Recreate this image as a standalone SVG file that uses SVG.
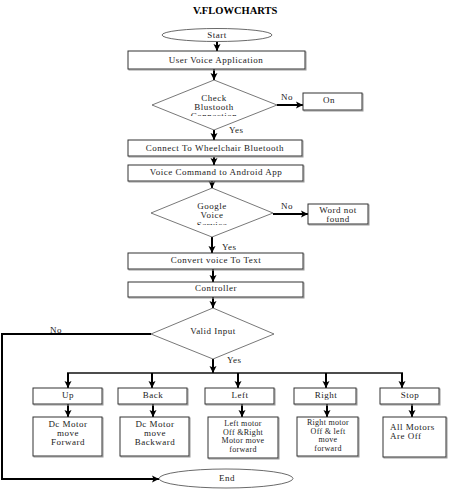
<svg xmlns="http://www.w3.org/2000/svg" width="453" height="496" viewBox="0 0 453 496">
<style>
.box{fill:#fff;stroke:#333;stroke-width:1}
.sh{fill:none;stroke:#999;stroke-width:1}
.dia{fill:#fff;stroke:#555;stroke-width:0.8}
.ell{fill:#fff;stroke:#444;stroke-width:0.8}
.arr{stroke:#000;stroke-width:2;fill:none;marker-end:url(#ah)}
.ln{stroke:#111;stroke-width:1.5;fill:none}
text{font-family:"Liberation Serif","Times New Roman",serif;font-size:9px;fill:#222;letter-spacing:0.5px}
.c{text-anchor:middle}
.sm{font-size:8px;letter-spacing:0.3px}
.title{font-size:10.5px;font-weight:bold;letter-spacing:0;fill:#000}
</style>
<defs>
<marker id="ah" markerUnits="userSpaceOnUse" markerWidth="8" markerHeight="8" refX="7" refY="4" orient="auto">
<path d="M0,0.5 L7,4 L0,7.5 L1.5,4 Z" fill="#000"/>
</marker>
<clipPath id="cp1"><rect x="150" y="85" width="130" height="31"/></clipPath>
<clipPath id="cp2"><rect x="150" y="195" width="125" height="30"/></clipPath>
</defs>

<text class="title" x="193" y="14">V.FLOWCHARTS</text>

<g id="connectors">
<line class="arr" x1="217" y1="42" x2="217" y2="51"/>
<line class="arr" x1="214" y1="69" x2="214" y2="80"/>
<line class="arr" x1="214" y1="130" x2="214" y2="140"/>
<line class="arr" x1="214" y1="157" x2="214" y2="165"/>
<line class="arr" x1="212" y1="181" x2="212" y2="188"/>
<line class="arr" x1="212" y1="237" x2="212" y2="253"/>
<line class="arr" x1="213" y1="269" x2="213" y2="282"/>
<line class="arr" x1="213" y1="297" x2="213" y2="308"/>
<line class="arr" x1="213" y1="359" x2="213" y2="373"/>
<line class="arr" x1="277" y1="105" x2="303" y2="105"/>
<line class="arr" x1="273" y1="214" x2="308" y2="214"/>
<line class="ln" x1="67" y1="373" x2="403" y2="373"/>
<line class="arr" x1="68" y1="373" x2="68" y2="388"/>
<line class="arr" x1="152" y1="373" x2="152" y2="388"/>
<line class="arr" x1="238" y1="373" x2="238" y2="388"/>
<line class="arr" x1="326" y1="373" x2="326" y2="388"/>
<line class="arr" x1="402" y1="373" x2="402" y2="388"/>
<line class="arr" x1="68" y1="404" x2="68" y2="417"/>
<line class="arr" x1="153" y1="404" x2="153" y2="417"/>
<line class="arr" x1="242" y1="404" x2="242" y2="417"/>
<line class="arr" x1="327" y1="404" x2="327" y2="417"/>
<line class="arr" x1="412" y1="404" x2="412" y2="417"/>
<polyline class="arr" points="151,334 2,334 2,479 159,479"/>
<text x="281" y="100">No</text>
<text x="229" y="133">Yes</text>
<text x="281" y="209">No</text>
<text x="222" y="250">Yes</text>
<text x="50" y="333">No</text>
<text x="227" y="363">Yes</text>
</g>

<g id="start">
<ellipse class="ell" cx="217" cy="35" rx="55" ry="6.5"/>
<text class="c" x="217" y="38">Start</text>
</g>

<g id="user-voice">
<rect class="sh" x="129" y="52" width="177" height="18"/>
<rect class="box" x="128" y="51" width="177" height="18"/>
<text class="c" x="216" y="63">User Voice Application</text>
</g>

<g id="check-bt">
<polygon class="dia" points="214,80 277,105 214,130 152,105"/>
<g clip-path="url(#cp1)">
<text class="c" x="214" y="101">Check</text>
<text class="c" x="214" y="110">Blustooth</text>
<text class="c" x="214" y="119">Connection</text>
</g>
</g>

<g id="on">
<rect class="sh" x="304" y="94" width="59" height="17"/>
<rect class="box" x="303" y="93" width="59" height="17"/>
<text x="323" y="103">On</text>
</g>

<g id="connect">
<rect class="sh" x="129" y="141" width="174" height="16"/>
<rect class="box" x="128" y="140" width="174" height="16"/>
<text class="c" x="215" y="151">Connect To Wheelchair Bluetooth</text>
</g>

<g id="voice-cmd">
<rect class="sh" x="129" y="166" width="175" height="16"/>
<rect class="box" x="128" y="165" width="175" height="16"/>
<text class="c" x="216" y="175">Voice Command to Android App</text>
</g>

<g id="google">
<polygon class="dia" points="212,188 273,213 212,237 151,213"/>
<g clip-path="url(#cp2)">
<text class="c" x="212" y="209">Google</text>
<text class="c" x="212" y="218">Voice</text>
<text class="c" x="212" y="228">Service</text>
</g>
</g>

<g id="word-not-found">
<rect class="sh" x="309" y="205" width="60" height="20"/>
<rect class="box" x="308" y="204" width="60" height="20"/>
<text class="c" x="338" y="213">Word not</text>
<text class="c" x="338" y="222">found</text>
</g>

<g id="convert">
<rect class="sh" x="129" y="254" width="175" height="16"/>
<rect class="box" x="128" y="253" width="175" height="16"/>
<text class="c" x="216" y="263">Convert voice To Text</text>
</g>

<g id="controller">
<rect class="sh" x="129" y="283" width="175" height="15"/>
<rect class="box" x="128" y="282" width="175" height="15"/>
<text class="c" x="216" y="291">Controller</text>
</g>

<g id="valid-input">
<polygon class="dia" points="213,308 274,334 213,359 151,334"/>
<text class="c" x="213" y="334">Valid Input</text>
</g>

<g id="up">
<rect class="sh" x="34" y="389" width="69" height="16"/>
<rect class="box" x="33" y="388" width="69" height="16"/>
<text class="c" x="68" y="398">Up</text>
</g>
<g id="back">
<rect class="sh" x="119" y="389" width="69" height="16"/>
<rect class="box" x="118" y="388" width="69" height="16"/>
<text class="c" x="153" y="398">Back</text>
</g>
<g id="left">
<rect class="sh" x="206" y="389" width="69" height="16"/>
<rect class="box" x="205" y="388" width="69" height="16"/>
<text class="c" x="240" y="398">Left</text>
</g>
<g id="right">
<rect class="sh" x="295" y="389" width="62" height="16"/>
<rect class="box" x="294" y="388" width="62" height="16"/>
<text class="c" x="326" y="398">Right</text>
</g>
<g id="stop">
<rect class="sh" x="381" y="389" width="59" height="16"/>
<rect class="box" x="380" y="388" width="59" height="16"/>
<text class="c" x="410" y="398">Stop</text>
</g>

<g id="dc-forward">
<rect class="sh" x="34" y="418" width="69" height="39"/>
<rect class="box" x="33" y="417" width="69" height="39"/>
<text class="c" x="68" y="427">Dc Motor</text>
<text class="c" x="68" y="436">move</text>
<text class="c" x="68" y="445">Forward</text>
</g>
<g id="dc-backward">
<rect class="sh" x="121" y="418" width="69" height="39"/>
<rect class="box" x="120" y="417" width="69" height="39"/>
<text class="c" x="155" y="427">Dc Motor</text>
<text class="c" x="155" y="436">move</text>
<text class="c" x="155" y="445">Backward</text>
</g>
<g id="left-motor">
<rect class="sh" x="209" y="418" width="70" height="41"/>
<rect class="box" x="208" y="417" width="70" height="41"/>
<text class="c sm" x="243" y="426">Left motor</text>
<text class="c sm" x="243" y="434.5">Off &amp;Right</text>
<text class="c sm" x="243" y="443">Motor move</text>
<text class="c sm" x="243" y="451.5">forward</text>
</g>
<g id="right-motor">
<rect class="sh" x="298" y="418" width="61" height="39"/>
<rect class="box" x="297" y="417" width="61" height="39"/>
<text class="c sm" x="328" y="425">Right motor</text>
<text class="c sm" x="328" y="433.5">Off &amp; left</text>
<text class="c sm" x="328" y="442">move</text>
<text class="c sm" x="328" y="450.5">forward</text>
</g>
<g id="all-off">
<rect class="sh" x="384" y="418" width="63" height="40"/>
<rect class="box" x="383" y="417" width="63" height="40"/>
<text x="390" y="430">All Motors</text>
<text x="390" y="439">Are Off</text>
</g>

<g id="end">
<ellipse class="ell" cx="226" cy="478.5" rx="67" ry="9.5"/>
<text class="c" x="227" y="481">End</text>
</g>
</svg>
